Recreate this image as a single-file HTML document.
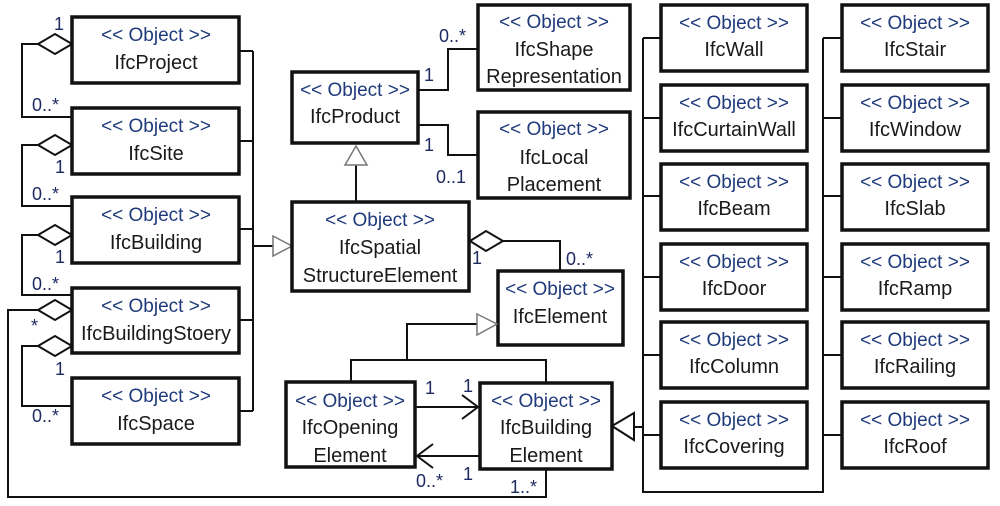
<!DOCTYPE html>
<html><head><meta charset="utf-8"><style>
html,body{margin:0;padding:0;background:#fff;}
svg{display:block;}
text{font-family:"Liberation Sans",sans-serif;}
.st{fill:#1f3a7a;font-size:19px;}
.nm{fill:#1a1a1a;font-size:20px;}
.ml{fill:#1f2a60;font-size:18px;}
.b{fill:#fff;stroke:#111;stroke-width:3.5;}
.l{fill:none;stroke:#111;stroke-width:2;}
.g{fill:#fff;stroke:#777;stroke-width:1.5;}
.d{fill:#fff;stroke:#111;stroke-width:2;}
</style></head><body>
<svg width="1000" height="506" viewBox="0 0 1000 506" xmlns="http://www.w3.org/2000/svg">
<g text-anchor="middle">
<rect class="b" x="72" y="17" width="167" height="66"/><text class="st" x="156" y="41">&lt;&lt; Object &gt;&gt;</text><text class="nm" x="156" y="69">IfcProject</text>
<rect class="b" x="72" y="108" width="167" height="66"/><text class="st" x="156" y="132">&lt;&lt; Object &gt;&gt;</text><text class="nm" x="156" y="160">IfcSite</text>
<rect class="b" x="72" y="197" width="167" height="66"/><text class="st" x="156" y="221">&lt;&lt; Object &gt;&gt;</text><text class="nm" x="156" y="249">IfcBuilding</text>
<rect class="b" x="72" y="288" width="167" height="65"/><text class="st" x="156" y="312">&lt;&lt; Object &gt;&gt;</text><text class="nm" x="156" y="340">IfcBuildingStoery</text>
<rect class="b" x="72" y="378" width="167" height="66"/><text class="st" x="156" y="402">&lt;&lt; Object &gt;&gt;</text><text class="nm" x="156" y="430">IfcSpace</text>
</g>
<path class="l" d="M239 51H253M239 141H253M239 229H253M239 320H253M239 411H253M253 51V411M253 246H273"/>
<polygon class="g" points="273,236 292,246 273,256"/>
<path class="l" d="M38 44H22V117H72M38 145H22V206H72M38 235H22V295H72M38 310H8V497H546V469M38 346H22V406H72"/>
<polygon class="d" points="72,44 55,34 38,44 55,54"/>
<polygon class="d" points="72,145 55,135 38,145 55,155"/>
<polygon class="d" points="72,235 55,225 38,235 55,245"/>
<polygon class="d" points="72,310 55,300 38,310 55,320"/>
<polygon class="d" points="72,346 55,336 38,346 55,356"/>
<g class="ml">
<text x="54" y="30">1</text><text x="32" y="111">0..*</text>
<text x="55" y="173">1</text><text x="32" y="200">0..*</text>
<text x="55" y="263">1</text><text x="32" y="290">0..*</text>
<text x="31" y="332">*</text>
<text x="55" y="375">1</text><text x="32" y="422">0..*</text>
<text x="510" y="493">1..*</text>
</g>
<g text-anchor="middle">
<rect class="b" x="292" y="72" width="126" height="71"/><text class="st" x="355" y="96">&lt;&lt; Object &gt;&gt;</text><text class="nm" x="355" y="123">IfcProduct</text>
<rect class="b" x="478" y="5" width="152" height="85"/><text class="st" x="554" y="28">&lt;&lt; Object &gt;&gt;</text><text class="nm" x="554" y="56">IfcShape</text><text class="nm" x="554" y="83">Representation</text>
<rect class="b" x="478" y="112" width="152" height="86"/><text class="st" x="554" y="135">&lt;&lt; Object &gt;&gt;</text><text class="nm" x="554" y="164">IfcLocal</text><text class="nm" x="554" y="191">Placement</text>
<rect class="b" x="292" y="202" width="177" height="89"/><text class="st" x="380" y="226">&lt;&lt; Object &gt;&gt;</text><text class="nm" x="380" y="254">IfcSpatial</text><text class="nm" x="380" y="282">StructureElement</text>
<rect class="b" x="498" y="271" width="125" height="74"/><text class="st" x="560" y="295">&lt;&lt; Object &gt;&gt;</text><text class="nm" x="560" y="323">IfcElement</text>
<rect class="b" x="286" y="382" width="129" height="85"/><text class="st" x="350" y="407">&lt;&lt; Object &gt;&gt;</text><text class="nm" x="350" y="434">IfcOpening</text><text class="nm" x="350" y="462">Element</text>
<rect class="b" x="480" y="383" width="132" height="86"/><text class="st" x="546" y="407">&lt;&lt; Object &gt;&gt;</text><text class="nm" x="546" y="434">IfcBuilding</text><text class="nm" x="546" y="462">Element</text>
</g>
<path class="l" d="M418 90H448V49H478M418 125H448V155H478M356 165V202"/>
<polygon class="g" points="356,146 367,165 345,165"/>
<path class="l" d="M503 241H560V271"/>
<polygon class="d" points="470,241 486,231 503,241 486,251"/>
<path class="l" d="M477 324H407V360M351 382V360H546V383"/>
<polygon class="g" points="477,314 497,324 477,335"/>
<path class="l" d="M415 407H478M462 395L478 407L462 419M480 456H417M433 444L417 456L433 468"/>
<path class="l" d="M633 427H643"/>
<polygon class="d" points="612,426 634,413 634,440"/>
<g class="ml">
<text x="424" y="81">1</text><text x="439" y="42">0..*</text>
<text x="424" y="151">1</text><text x="436" y="183">0..1</text>
<text x="472" y="264">1</text><text x="566" y="265">0..*</text>
<text x="425" y="394">1</text><text x="463" y="392">1</text>
<text x="416" y="487">0..*</text><text x="463" y="480">1</text>
</g>
<path class="l" d="M643 38V492H823V38M643 38H661M643 118H661M643 196H661M643 277H661M643 355H661M643 435H661M823 38H842M823 118H842M823 196H842M823 277H842M823 355H842M823 435H842"/>
<g text-anchor="middle">
<rect class="b" x="661" y="5" width="146" height="66"/><text class="st" x="734" y="29">&lt;&lt; Object &gt;&gt;</text><text class="nm" x="734" y="56">IfcWall</text>
<rect class="b" x="661" y="85" width="146" height="66"/><text class="st" x="734" y="109">&lt;&lt; Object &gt;&gt;</text><text class="nm" x="734" y="136">IfcCurtainWall</text>
<rect class="b" x="661" y="164" width="146" height="66"/><text class="st" x="734" y="188">&lt;&lt; Object &gt;&gt;</text><text class="nm" x="734" y="215">IfcBeam</text>
<rect class="b" x="661" y="244" width="146" height="66"/><text class="st" x="734" y="268">&lt;&lt; Object &gt;&gt;</text><text class="nm" x="734" y="295">IfcDoor</text>
<rect class="b" x="661" y="322" width="146" height="66"/><text class="st" x="734" y="346">&lt;&lt; Object &gt;&gt;</text><text class="nm" x="734" y="373">IfcColumn</text>
<rect class="b" x="661" y="402" width="146" height="66"/><text class="st" x="734" y="426">&lt;&lt; Object &gt;&gt;</text><text class="nm" x="734" y="453">IfcCovering</text>
<rect class="b" x="842" y="5" width="146" height="66"/><text class="st" x="915" y="29">&lt;&lt; Object &gt;&gt;</text><text class="nm" x="915" y="56">IfcStair</text>
<rect class="b" x="842" y="85" width="146" height="66"/><text class="st" x="915" y="109">&lt;&lt; Object &gt;&gt;</text><text class="nm" x="915" y="136">IfcWindow</text>
<rect class="b" x="842" y="164" width="146" height="66"/><text class="st" x="915" y="188">&lt;&lt; Object &gt;&gt;</text><text class="nm" x="915" y="215">IfcSlab</text>
<rect class="b" x="842" y="244" width="146" height="66"/><text class="st" x="915" y="268">&lt;&lt; Object &gt;&gt;</text><text class="nm" x="915" y="295">IfcRamp</text>
<rect class="b" x="842" y="322" width="146" height="66"/><text class="st" x="915" y="346">&lt;&lt; Object &gt;&gt;</text><text class="nm" x="915" y="373">IfcRailing</text>
<rect class="b" x="842" y="402" width="146" height="66"/><text class="st" x="915" y="426">&lt;&lt; Object &gt;&gt;</text><text class="nm" x="915" y="453">IfcRoof</text>
</g>
</svg>
</body></html>
